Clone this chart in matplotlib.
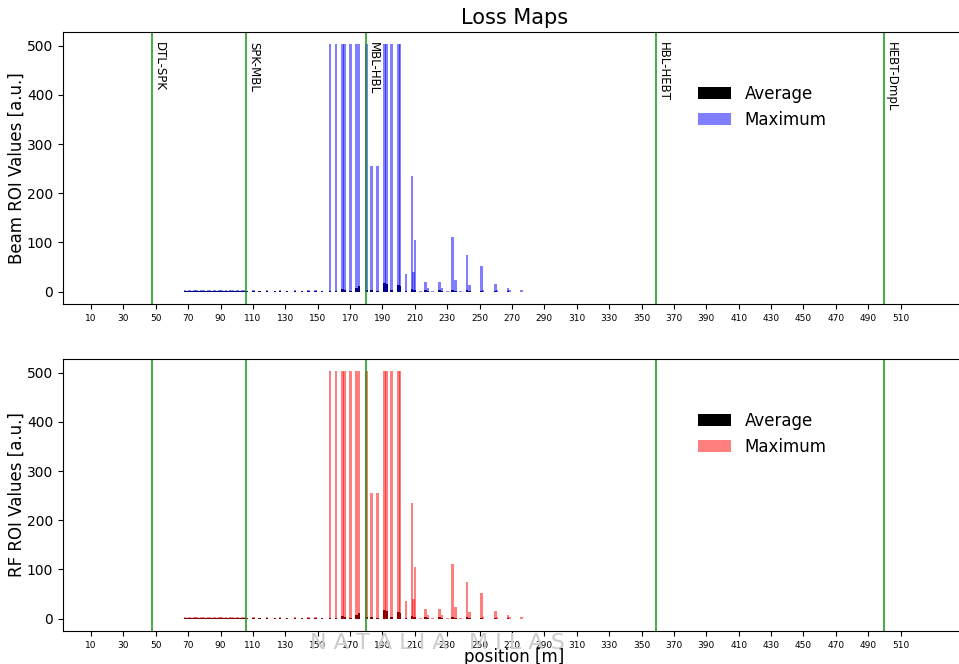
import numpy as np
import matplotlib
matplotlib.use('Agg')
from matplotlib import pyplot as plt

# section boundaries [m]
section_names = ['DTL-SPK', 'SPK-MBL', 'MBL-HBL', 'HBL-HEBT', 'HEBT-DmpL']
section_pos = [47.5, 106.0, 179.8, 359.0, 500.0]

# BLM positions [m]
blm_pos = [68.1, 69.6, 71.0, 72.4, 73.8, 75.2, 76.6, 78.0, 79.4, 80.8, 82.2, 83.6, 85.0,
           86.4, 87.8, 89.2, 90.6, 92.0, 93.4, 94.8, 96.2, 97.6, 99.0, 100.4, 101.8, 103.2,
           104.6, 106.0, 110.3, 114.0, 118.6, 123.7, 126.8, 131.0, 136.0, 140.2, 144.3,
           148.5, 152.6,
           157.5, 161.3, 165.3, 166.6, 170.2, 174.0, 175.4, 180.2, 183.3, 187.1, 191.2,
           192.3, 195.6, 199.8, 200.9, 204.6, 208.1, 209.0, 210.1, 213.4, 216.4, 218.0,
           220.8, 225.1, 226.8, 230.0, 233.4, 235.0, 238.1, 242.1, 243.6, 251.0, 252.0,
           259.7, 260.7, 267.4, 268.3, 276.0]

beam_max = [3, 2, 3, 2, 3, 3, 2, 3, 3, 2, 3, 3, 2,
            3, 2, 3, 3, 2, 3, 2, 3, 3, 2, 3, 2, 3,
            3, 2, 3, 2, 3, 2, 3, 2, 3, 2, 3,
            3, 2,
            503, 503, 503, 503, 503, 503, 503, 503, 256, 256, 503,
            503, 503, 503, 503, 36, 235, 40, 104, 2, 20, 8,
            2, 20, 8, 2, 112, 24, 2, 75, 14, 52, 4,
            16, 4, 8, 3, 4]

beam_avg = [1, 1, 1, 1, 1, 1, 1, 1, 1, 1, 1, 1, 1,
            1, 1, 1, 1, 1, 1, 1, 1, 1, 1, 1, 1, 1,
            1, 1, 1, 1, 1, 1, 1, 1, 1, 1, 1,
            1, 1,
            2, 2, 5, 4, 2, 8, 11, 3, 4, 2, 18,
            16, 3, 14, 12, 2, 6, 3, 4, 0, 3, 1,
            0, 3, 1, 0, 4, 2, 0, 4, 2, 2, 0,
            2, 0, 1, 0, 0]

rf_max = beam_max
rf_avg = beam_avg

xticks = list(range(10, 511, 20))

fig = plt.figure(figsize=(9.59, 6.64), dpi=100)
ax1 = fig.add_axes([0.0657, 0.5422, 0.941, 0.4096])
ax2 = fig.add_axes([0.0657, 0.0497, 0.941, 0.4096])

for ax, mx, av, col, ylab in [(ax1, beam_max, beam_avg, 'blue', 'Beam ROI Values [a.u.]'),
                              (ax2, rf_max, rf_avg, 'red', 'RF ROI Values [a.u.]')]:
    ax.bar(blm_pos, av, width=1.6, color='black', label='Average')
    ax.bar(blm_pos, mx, width=1.6, color=col, alpha=0.5, label='Maximum')
    for p in section_pos:
        ax.axvline(p, color='#119911', lw=1.1)
    ax.set_xticks(xticks)
    ax.set_xticklabels([str(t) for t in xticks], fontsize=6.5)
    ax.set_xlim(-7.3, 550)
    ax.set_ylim(-25.15, 528)
    ax.set_yticks([0, 100, 200, 300, 400, 500])
    ax.tick_params(axis='y', labelsize=10)
    ax.set_ylabel(ylab, fontsize=12, labelpad=1)
    ax.legend(loc='center', bbox_to_anchor=(0.775, 0.725), frameon=False, fontsize=12)

for name, p in zip(section_names, section_pos):
    ax1.text(p + 0.5, 508, name, rotation=-90, ha='left', va='top', fontsize=8.5)

ax1.set_title('Loss Maps', fontsize=15)
ax2.set_xlabel('position [m]', fontsize=12, labelpad=-1)
fig.text(0.456, 0.0316, 'N A T A L I A   M I L A S', fontsize=16, color='#cccccc',
         ha='center', va='center')

fig.savefig('out.png', dpi=100)
